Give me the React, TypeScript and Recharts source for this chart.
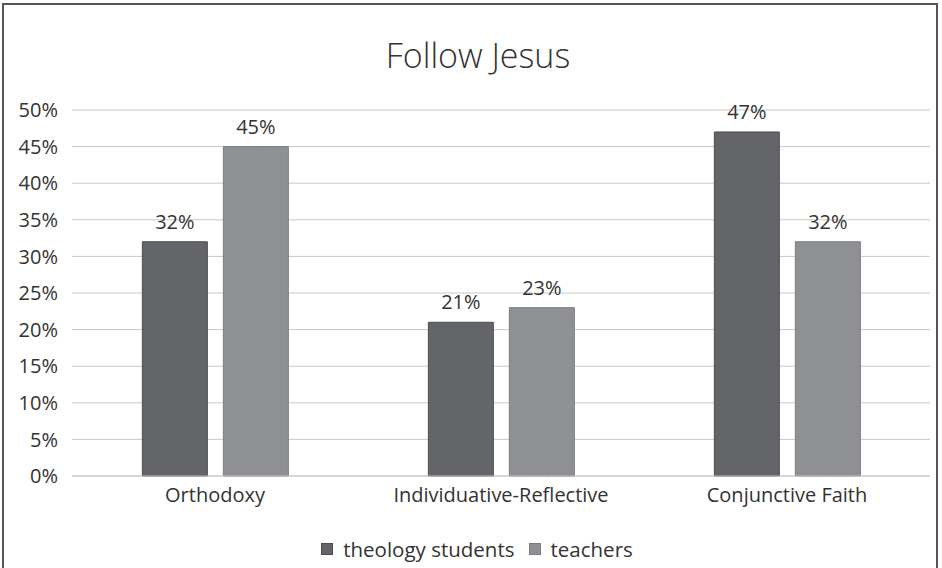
import React from "react";
import { BarChart, Bar, XAxis, YAxis, CartesianGrid, LabelList } from "recharts";

const categories = ["Orthodoxy", "Individuative-Reflective", "Conjunctive Faith"];
const theologyStudents = [32, 21, 47];
const teachers = [45, 23, 32];
const yTicks = [0, 5, 10, 15, 20, 25, 30, 35, 40, 45, 50];
const seriesNames = ["theology students", "teachers"];
const title = "Follow Jesus";

const data = categories.map((c, i) => ({
  name: c,
  students: theologyStudents[i],
  teachers: teachers[i],
}));

const FONT = "'Open Sans', 'Noto Sans', sans-serif";
const DARK = "#646569";
const LIGHT = "#8f9094";
const TEXT = "#333333";

export default function App() {
  return (
    <div
      style={{
        position: "absolute",
        left: 0,
        top: 0,
        width: 942,
        height: 568,
        background: "#fff",
        fontFamily: FONT,
        overflow: "hidden",
      }}
    >
      <div
        style={{
          position: "absolute",
          left: 2,
          top: 3,
          width: 936,
          height: 580,
          border: "2px solid #555",
          boxSizing: "border-box",
        }}
      />
      <div
        style={{
          position: "absolute",
          left: 0,
          width: 942,
          top: 33,
          textAlign: "center",
          fontSize: 34,
          fontWeight: 300,
          color: TEXT,
          lineHeight: "44px",
          paddingLeft: 14,
          boxSizing: "border-box",
        }}
      >
        {title}
      </div>
      <div style={{ position: "absolute", left: 0, top: 0 }}>
        <BarChart
          width={942}
          height={568}
          data={data}
          margin={{ top: 110, right: 12, left: 0, bottom: 62 }}
          barCategoryGap="24.6%"
          barGap={16}
        >
          <CartesianGrid vertical={false} stroke="#c9c9c9" strokeWidth={1} />
          <XAxis
            dataKey="name"
            axisLine={{ stroke: "#c9c9c9" }}
            tickLine={false}
            tick={{ fill: TEXT, fontSize: 20, fontFamily: FONT }}
            tickMargin={6}
          />
          <YAxis
            width={72}
            domain={[0, 50]}
            ticks={yTicks}
            axisLine={false}
            tickLine={false}
            tickFormatter={(v) => `${v}%`}
            tick={{ fill: TEXT, fontSize: 20, fontFamily: FONT }}
            tickMargin={8}
          />
          <Bar dataKey="students" fill={DARK} stroke="#4d4d50" strokeWidth={1} isAnimationActive={false}>
            <LabelList
              dataKey="students"
              position="top"
              offset={13}
              formatter={(v) => `${v}%`}
              style={{ fill: TEXT, fontSize: 20, fontFamily: FONT }}
            />
          </Bar>
          <Bar dataKey="teachers" fill={LIGHT} stroke="#7c7d80" strokeWidth={1} isAnimationActive={false}>
            <LabelList
              dataKey="teachers"
              position="top"
              offset={13}
              formatter={(v) => `${v}%`}
              style={{ fill: TEXT, fontSize: 20, fontFamily: FONT }}
            />
          </Bar>
        </BarChart>
      </div>
      <div
        style={{
          position: "absolute",
          left: 0,
          width: 942,
          top: 535,
          display: "flex",
          justifyContent: "center",
          alignItems: "center",
          fontSize: 20.5,
          color: TEXT,
          gap: 14,
          paddingLeft: 12,
          boxSizing: "border-box",
          lineHeight: "28px",
        }}
      >
        {seriesNames.map((n, i) => (
          <div key={n} style={{ display: "flex", alignItems: "center" }}>
            <span
              style={{
                display: "inline-block",
                width: 12,
                height: 12,
                background: i === 0 ? DARK : LIGHT,
                border: `1px solid ${i === 0 ? "#4d4d50" : "#7c7d80"}`,
                boxSizing: "border-box",
                marginRight: 10,
              }}
            />
            <span>{n}</span>
          </div>
        ))}
      </div>
    </div>
  );
}
